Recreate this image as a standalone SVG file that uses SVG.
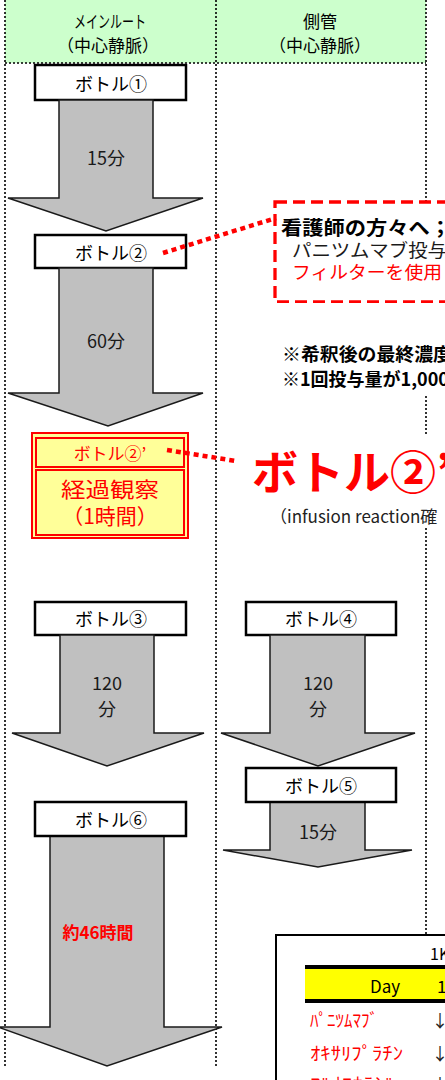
<svg xmlns="http://www.w3.org/2000/svg" width="445" height="1080" viewBox="0 0 445 1080">
<style>
text{font-family:"Noto Sans CJK JP","Noto Sans",sans-serif;dominant-baseline:central}
.col{stroke:#000;stroke-width:1.6;stroke-dasharray:2 2;fill:none}
.box{fill:#fff;stroke:#000;stroke-width:2.5}
.arr{fill:#c0c0c0;stroke:#1a1a1a;stroke-width:1.5;stroke-linejoin:miter}
.lbl{font-size:18px;fill:#000;text-anchor:middle}
.dur{font-size:18px;fill:#1a1a1a;text-anchor:middle}
.hdr{font-size:17px;fill:#000;text-anchor:middle}
.rdot{stroke:#f00;stroke-width:4.5;stroke-dasharray:5 4;fill:none}
.red{fill:#f00}
</style>
<rect x="5" y="0" width="421" height="63" fill="#ccffcc"/>
<g id="grid">
<line class="col" x1="5" y1="0" x2="5" y2="1068"/>
<line class="col" x1="216" y1="0" x2="216" y2="1068"/>
<line class="col" x1="426" y1="0" x2="426" y2="1068"/>
<line class="col" x1="5" y1="63" x2="426" y2="63"/>
</g>
<g id="header">
<text class="hdr" x="110" y="20" font-size="15" textLength="72" lengthAdjust="spacingAndGlyphs">メインルート</text>
<text class="hdr" x="108" y="44">（中心静脈）</text>
<text class="hdr" x="320" y="20">側管</text>
<text class="hdr" x="320" y="44">（中心静脈）</text>
</g>
<g id="bottle1">
<rect class="box" x="35" y="65" width="151" height="35"/>
<text class="lbl" x="111" y="83">ボトル①</text>
<polygon class="arr" points="59,100 153,100 153,198 203,198 106,231 8,198 59,198"/>
<text class="dur" x="106" y="157">15分</text>
</g>
<g id="bottle2">
<rect class="box" x="35" y="235" width="151" height="33"/>
<text class="lbl" x="111" y="252">ボトル②</text>
<polygon class="arr" points="59,268 153,268 153,393 203,393 108,426 8,393 59,393"/>
<text class="dur" x="106" y="340">60分</text>
</g>
<g id="bottle2p">
<rect x="32" y="433" width="156" height="105" fill="#ffff99" stroke="#f00" stroke-width="2"/>
<rect x="36" y="438" width="148" height="29" fill="#ffff99" stroke="#f00" stroke-width="2"/>
<rect x="36" y="470" width="148" height="65" fill="#ffff99" stroke="#f00" stroke-width="2"/>
<text x="110" y="452" font-size="17" text-anchor="middle" class="red">ボトル②’</text>
<text x="110" y="488" font-size="21" text-anchor="middle" class="red" textLength="98" lengthAdjust="spacingAndGlyphs">経過観察</text>
<text x="110" y="515" font-size="21" text-anchor="middle" class="red">（1時間）</text>
</g>
<g id="note">
<rect x="275" y="202" width="200" height="100" fill="#fff" stroke="#f00" stroke-width="3.3" stroke-dasharray="12 6"/>
<text x="281" y="226" font-size="19" font-weight="bold" fill="#000" textLength="170" lengthAdjust="spacingAndGlyphs">看護師の方々へ；</text>
<text x="292" y="249" font-size="18" fill="#1a1a1a" textLength="155" lengthAdjust="spacingAndGlyphs">パニツムマブ投与</text>
<text x="292" y="271" font-size="18" fill="#f00" textLength="150" lengthAdjust="spacingAndGlyphs">フィルターを使用</text>
</g>
<g id="remarks">
<rect x="270" y="303" width="175" height="92" fill="#fff"/>
<text x="282" y="353" font-size="18" font-weight="bold" fill="#000" textLength="170" lengthAdjust="spacingAndGlyphs">※希釈後の最終濃度</text>
<text x="282" y="378" font-size="18" font-weight="bold" fill="#000">※1回投与量が1,000</text>
</g>
<g id="bottle2p-label">
<rect x="248" y="435" width="197" height="91" fill="#fff"/>
<text x="252" y="469" font-size="46" font-weight="bold" class="red">ボトル②’</text>
<text x="270" y="515" font-size="17" fill="#222">（infusion reaction確</text>
</g>
<g id="bottle3">
<rect class="box" x="35" y="602" width="151" height="33"/>
<text class="lbl" x="111" y="618">ボトル③</text>
<polygon class="arr" points="60,635 154,635 154,733 204,733 107,766 12,733 60,733"/>
<text class="dur" x="107" y="682">120</text>
<text class="dur" x="107" y="708">分</text>
</g>
<g id="bottle4">
<rect class="box" x="246" y="602" width="150" height="33"/>
<text class="lbl" x="321" y="618">ボトル④</text>
<polygon class="arr" points="270,635 365,635 365,733 415,733 318,766 221,733 270,733"/>
<text class="dur" x="318" y="682">120</text>
<text class="dur" x="318" y="708">分</text>
</g>
<g id="bottle5">
<polygon class="arr" points="270,802 365,802 365,850 412,850 318,867 223,850 270,850"/>
<rect class="box" x="246" y="768" width="150" height="34"/>
<text class="lbl" x="321" y="785">ボトル⑤</text>
<text class="dur" x="318" y="831">15分</text>
</g>
<g id="bottle6">
<polygon class="arr" points="50,836 164,836 164,1027 222,1027 107,1066 -2,1027 50,1027"/>
<rect class="box" x="35" y="802" width="151" height="34"/>
<text class="lbl" x="111" y="819">ボトル⑥</text>
<text x="98" y="931" font-size="17" font-weight="bold" text-anchor="middle" class="red">約46時間</text>
</g>
<g id="table">
<rect x="276" y="935" width="200" height="200" fill="#fff" stroke="#000" stroke-width="2"/>
<text x="430" y="953" font-size="16" fill="#000">1K</text>
<rect x="305" y="967" width="145" height="34" fill="#ffff00"/>
<line x1="305" y1="967" x2="450" y2="967" stroke="#000" stroke-width="4"/>
<line x1="305" y1="1001" x2="450" y2="1001" stroke="#000" stroke-width="4"/>
<text x="385" y="985" font-size="17" text-anchor="middle" fill="#000">Day</text>
<text x="437" y="985" font-size="17" fill="#000">1</text>
<text x="310" y="1019" font-size="18" class="red" textLength="68" lengthAdjust="spacingAndGlyphs">ﾊﾟﾆﾂﾑﾏﾌﾞ</text>
<text x="310" y="1052" font-size="18" class="red" textLength="93" lengthAdjust="spacingAndGlyphs">ｵｷｻﾘﾌﾟﾗﾁﾝ</text>
<text x="310" y="1083" font-size="18" class="red" textLength="85" lengthAdjust="spacingAndGlyphs">ﾌﾙｵﾛｳﾗｼﾙ</text>
<text x="440" y="1019" font-size="17" text-anchor="middle" fill="#222">↓</text>
<text x="440" y="1052" font-size="17" text-anchor="middle" fill="#222">↓</text>
<text x="440" y="1083" font-size="17" text-anchor="middle" fill="#222">↓</text>
</g>
<g id="connectors">
<line class="rdot" x1="163" y1="253" x2="276" y2="218"/>
<line class="rdot" x1="167" y1="450" x2="236" y2="461"/>
</g>
</svg>
